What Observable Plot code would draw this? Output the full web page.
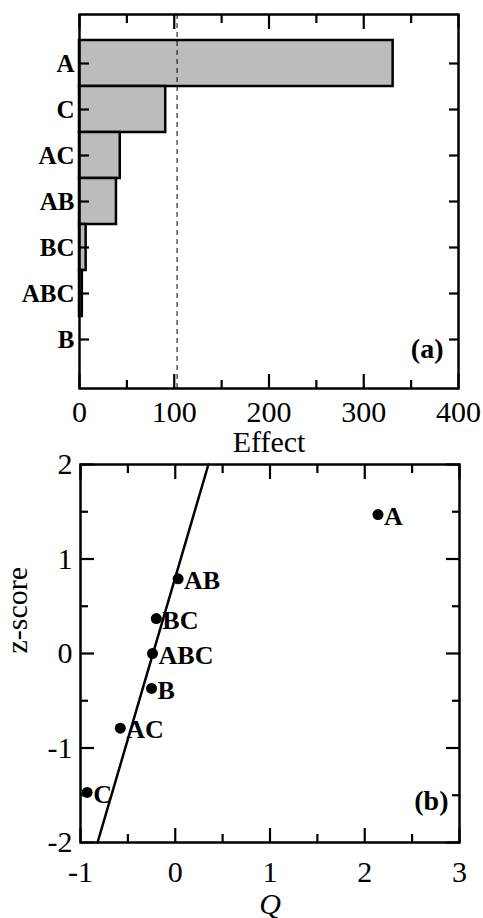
<!DOCTYPE html>
<html>
<head>
<meta charset="utf-8">
<script src="https://cdn.jsdelivr.net/npm/d3@7"></script>
<script src="https://cdn.jsdelivr.net/npm/@observablehq/plot@0.6"></script>
<style>
  html, body { margin: 0; padding: 0; background: white; }
  #chartA svg, #chartB svg { display: block; overflow: visible; }
</style>
</head>
<body>
<div id="chartA"></div>
<div id="chartB"></div>
<script>
// ---- Panel (a): Pareto of effects ----
const terms = ["A", "C", "AC", "AB", "BC", "ABC", "B"];
const effects = [331, 91, 43, 39, 7, 3, 0];
const effectTicks = [0, 100, 200, 300, 400];
const effectMinorTicks = [50, 150, 250, 350];
const effectThreshold = 103;

// ---- Panel (b): normal probability plot ----
const pointTerms = ["A", "AB", "BC", "ABC", "B", "AC", "C"];
const qValues = [2.14, 0.03, -0.20, -0.24, -0.25, -0.58, -0.93];
const zScores = [1.47, 0.79, 0.37, 0, -0.37, -0.79, -1.47];
const fitQ = [-0.82, 0.35];
const fitZ = [-2, 2];
const qTicks = [-1, 0, 1, 2, 3];
const qMinorTicks = [-0.5, 0.5, 1.5, 2.5];
const zTicks = [-2, -1, 0, 1, 2];
const zMinorTicks = [-1.5, -0.5, 0.5, 1.5];

const serif = "'Liberation Serif', 'Times New Roman', serif";

const barData = terms.map((t, i) => ({term: t, effect: effects[i]}));
const pointData = pointTerms.map((t, i) => ({term: t, q: qValues[i], z: zScores[i]}));
const fitData = fitQ.map((q, i) => ({q, z: fitZ[i]}));

const MAJ = 14, MIN = 8, CAT = 10;
const blank = () => "";
const tw = 2.2;

// inward ticks: draw axis ticks outward, then shift them back inside the frame
const inX = (anchor, ticks, size, extra = {}) => Plot.axisX({
  anchor, ticks, tickSize: size, dy: anchor === "bottom" ? -size : size,
  tickFormat: blank, strokeWidth: tw, label: null, ...extra
});
const inY = (anchor, ticks, size, extra = {}) => Plot.axisY({
  anchor, ticks, tickSize: size, dx: anchor === "left" ? size : -size,
  tickFormat: blank, strokeWidth: tw, label: null, ...extra
});

const plotA = Plot.plot({
  width: 483, height: 452,
  marginLeft: 79, marginRight: 25, marginTop: 14, marginBottom: 64,
  style: {fontFamily: serif, background: "white", color: "black"},
  x: {domain: [0, 400], label: null},
  y: {type: "band", domain: terms, paddingInner: 0, paddingOuter: 0.5, label: null},
  marks: [
    Plot.barX(barData, {x: "effect", y: "term", fill: "#bcbcbc", stroke: "black", strokeWidth: 2.5}),
    Plot.ruleX([effectThreshold], {stroke: "black", strokeWidth: 1, strokeDasharray: "5,4"}),
    Plot.frame({stroke: "black", strokeWidth: 2.5}),
    // bottom: major ticks with labels
    inX("bottom", effectTicks, MAJ, {tickFormat: d => String(d), tickPadding: 12, fontSize: 30}),
    inX("bottom", effectMinorTicks, MIN),
    inX("top", effectTicks, MAJ),
    inX("top", effectMinorTicks, MIN),
    // left: category ticks with bold labels
    inY("left", undefined, CAT, {tickFormat: d => d, tickPadding: 5, fontSize: 25, fontWeight: "bold"}),
    inY("right", undefined, CAT),
    Plot.text(["Effect"], {frameAnchor: "bottom", lineAnchor: "bottom", dy: 63, fontSize: 30}),
    Plot.text(["(a)"], {frameAnchor: "bottom-right", textAnchor: "end", dx: -15, dy: -31, fontSize: 28, fontWeight: "bold"})
  ]
});

const plotB = Plot.plot({
  width: 483, height: 466,
  marginLeft: 80, marginRight: 24, marginTop: 12, marginBottom: 76,
  style: {fontFamily: serif, background: "white", color: "black"},
  x: {domain: [-1, 3], label: null},
  y: {domain: [-2, 2], label: null},
  marks: [
    Plot.line(fitData, {x: "q", y: "z", stroke: "black", strokeWidth: 2.5}),
    Plot.dot(pointData, {x: "q", y: "z", r: 5.5, fill: "black", stroke: null}),
    Plot.text(pointData, {x: "q", y: "z", text: "term", textAnchor: "start", dx: 6, dy: 2, fontSize: 26, fontWeight: "bold"}),
    Plot.frame({stroke: "black", strokeWidth: 2.5}),
    inX("bottom", qTicks, MAJ, {tickFormat: d => String(d), tickPadding: 18, fontSize: 30}),
    inX("bottom", qMinorTicks, MIN),
    inX("top", qTicks, MAJ),
    inX("top", qMinorTicks, MIN),
    inY("left", zTicks, MAJ, {tickFormat: d => String(d), tickPadding: 8, fontSize: 30}),
    inY("left", zMinorTicks, MIN),
    inY("right", zTicks, MAJ),
    inY("right", zMinorTicks, MIN),
    Plot.text(["z-score"], {frameAnchor: "left", rotate: -90, dx: -63, fontSize: 30}),
    Plot.text(["Q"], {frameAnchor: "bottom", lineAnchor: "bottom", dy: 71, fontSize: 30, fontStyle: "italic"}),
    Plot.text(["(b)"], {frameAnchor: "bottom-right", textAnchor: "end", dx: -11, dy: -33, fontSize: 28, fontWeight: "bold"})
  ]
});

document.getElementById("chartA").append(plotA);
document.getElementById("chartB").append(plotB);
</script>
</body>
</html>
